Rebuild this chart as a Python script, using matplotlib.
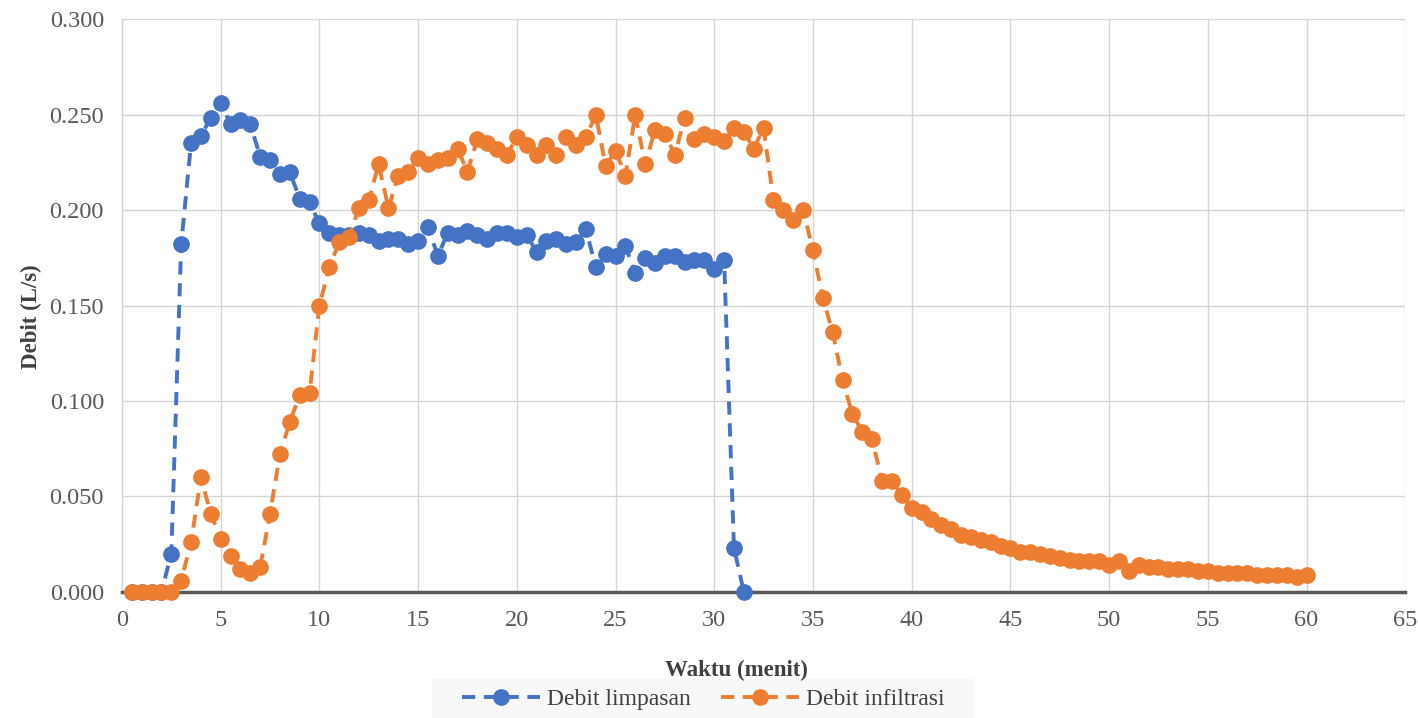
import numpy as np
import matplotlib
matplotlib.use("Agg")
import matplotlib.pyplot as plt
from matplotlib.patches import Rectangle

# Waktu (menit) - both series are sampled every 0.5 minute
time_runoff = np.arange(0.5, 31.51, 0.5)
time_infil = np.arange(0.5, 60.01, 0.5)

# Debit limpasan (L/s), 0.5 .. 31.5 min
runoff = [0.000, 0.000, 0.000, 0.000, 0.020, 0.182, 0.235, 0.239, 0.248, 0.256,
          0.245, 0.247, 0.245, 0.228, 0.226, 0.219, 0.220, 0.206, 0.204, 0.193,
          0.188, 0.187, 0.187, 0.188, 0.187, 0.184, 0.185, 0.185, 0.182, 0.184,
          0.191, 0.176, 0.188, 0.187, 0.189, 0.187, 0.185, 0.188, 0.188, 0.186,
          0.187, 0.178, 0.184, 0.185, 0.182, 0.183, 0.190, 0.170, 0.177, 0.176,
          0.181, 0.167, 0.175, 0.172, 0.176, 0.176, 0.173, 0.174, 0.174, 0.169,
          0.174, 0.023, 0.000]

# Debit infiltrasi (L/s), 0.5 .. 60 min
infiltration = [0.000, 0.000, 0.000, 0.000, 0.000, 0.006, 0.026, 0.060, 0.041, 0.028,
                0.019, 0.012, 0.010, 0.013, 0.041, 0.072, 0.089, 0.103, 0.104, 0.150,
                0.170, 0.183, 0.186, 0.201, 0.205, 0.224, 0.201, 0.218, 0.220, 0.227,
                0.224, 0.226, 0.227, 0.232, 0.220, 0.237, 0.235, 0.232, 0.229, 0.238,
                0.234, 0.229, 0.234, 0.229, 0.238, 0.234, 0.238, 0.250, 0.223, 0.231,
                0.218, 0.250, 0.224, 0.242, 0.240, 0.229, 0.248, 0.237, 0.240, 0.238,
                0.236, 0.243, 0.241, 0.232, 0.243, 0.205, 0.200, 0.195, 0.200, 0.179,
                0.154, 0.136, 0.111, 0.093, 0.084, 0.080, 0.058, 0.058, 0.051, 0.044,
                0.042, 0.038, 0.035, 0.033, 0.030, 0.029, 0.027, 0.026, 0.024, 0.023,
                0.021, 0.021, 0.020, 0.019, 0.018, 0.017, 0.016, 0.016, 0.016, 0.014,
                0.016, 0.011, 0.014, 0.013, 0.013, 0.012, 0.012, 0.012, 0.011, 0.011,
                0.010, 0.010, 0.010, 0.010, 0.009, 0.009, 0.009, 0.009, 0.008, 0.009]

plt.rcParams['font.family'] = ['Liberation Serif', 'DejaVu Serif']

fig = plt.figure(figsize=(14.18, 7.18), dpi=100)
ax = fig.add_axes([0.086, 0.1755, 0.905, 0.798])

line_kw = dict(linestyle=(0, (3.4, 2.2)), linewidth=2.8, marker='o',
               markersize=11, clip_on=False, zorder=3)
ax.plot(time_runoff, runoff, color='#4472C4', label='Debit limpasan', **line_kw)
ax.plot(time_infil, infiltration, color='#ED7D31', label='Debit infiltrasi', **line_kw)

ax.set_xlim(0, 65)
ax.set_ylim(0, 0.3)
ax.set_xticks(np.arange(0, 66, 5))
ax.set_yticks(np.arange(0, 0.301, 0.05))
ax.yaxis.set_major_formatter(matplotlib.ticker.FormatStrFormatter('%.3f'))
ax.tick_params(length=0, labelsize=17.5, labelcolor='#595959', pad=13)
ax.grid(True, color='#d4d4d4', linewidth=1)
ax.set_axisbelow(True)

for side in ['top', 'right']:
    ax.spines[side].set_visible(False)
ax.spines['left'].set_color('#d4d4d4')
ax.spines['left'].set_linewidth(1)
ax.spines['bottom'].set_color('#595959')
ax.spines['bottom'].set_linewidth(2.5)

ax.set_ylabel('Debit (L/s)', fontsize=16.5, fontweight='bold', color='#404040')
ax.yaxis.set_label_coords(-0.062, 0.48)
ax.set_xlabel('Waktu (menit)', fontsize=16.5, fontweight='bold', color='#404040')
ax.xaxis.set_label_coords(0.479, -0.118)

# light grey band behind the legend, as in the original
fig.patches.append(Rectangle((432 / 1418, 0), 543 / 1418, 39 / 718,
                             transform=fig.transFigure, facecolor='#f8f8f8',
                             edgecolor='none', zorder=-1))

leg = fig.legend(loc='center', bbox_to_anchor=(0.496, 0.026), ncol=2,
                 fontsize=17, frameon=False,
                 handlelength=3.3, handletextpad=0.3, columnspacing=1.3,
                 borderpad=0.35, borderaxespad=0)
for t in leg.get_texts():
    t.set_color('#404040')

fig.savefig('out.png', dpi=100)
